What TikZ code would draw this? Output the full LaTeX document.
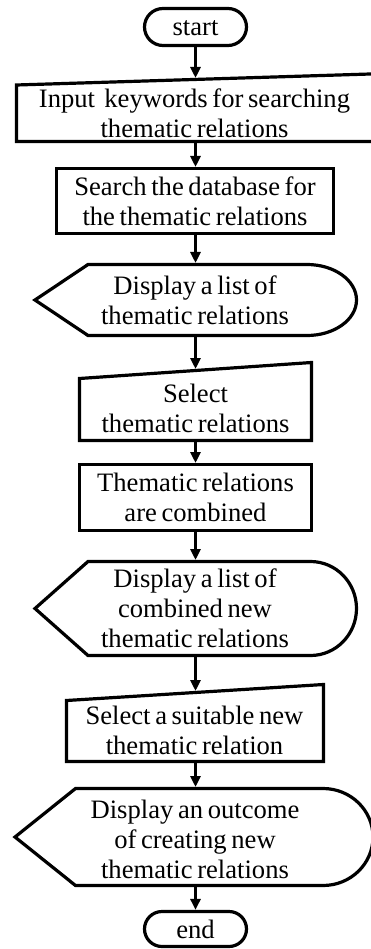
\documentclass[tikz,border=0pt]{standalone}
\usepackage{fontspec}
\setmainfont[WordSpace=0.7]{Liberation Serif}
\usetikzlibrary{arrows.meta}
\newcommand\lnstrut{\rule[-9pt]{0pt}{30pt}}
\newcommand\tmstrut{\rule[-2pt]{0pt}{22pt}}
\begin{document}
\begin{tikzpicture}[x=1pt,y=-1pt,
  shp/.style={line width=3.2pt, line join=miter},
  txt/.style={align=center, font=\fontsize{26.6}{30}\selectfont, inner sep=0pt},
  term/.style={draw, line width=3.2pt, minimum width=102pt, inner sep=0pt,
               font=\fontsize{26.6}{30}\selectfont},
  arr/.style={line width=3.2pt, -{Triangle[length=11pt,width=10pt]}}
]
\useasboundingbox (0,0) rectangle (370,949);
% start
\node[term, minimum height=37pt, rounded corners=18.5pt] (start) at (195.5,27) {\tmstrut start};
% input (manual input)
\draw[shp] (16.5,85) -- (380,73.7) -- (380,141.5) -- (16.5,141.5) -- cycle;
\node[txt] (input) at (194.5,117) {\lnstrut Input\ \ keywords for searching\\\lnstrut thematic relations};
\coordinate (inT) at (195.5,78);
\coordinate (inB) at (195.5,143);
% search
\draw[shp] (56.5,168.5) rectangle (333.5,233.5);
\node[txt] (search) at (195,205) {\lnstrut Search the database for\\\lnstrut the thematic relations};
\coordinate (srT) at (195.5,167);
\coordinate (srB) at (195.5,235);
% display 1
\draw[shp] (35,300) -- (88,264.5) -- (307,264.5)
  arc[start angle=-90,end angle=90,x radius=49.5,y radius=35.5] -- (88,335.5) -- cycle;
\node[txt] (disp1) at (195,303) {\lnstrut Display a list of\\\lnstrut thematic relations};
\coordinate (d1T) at (195.5,263);
\coordinate (d1B) at (195.5,337);
% select 1
\draw[shp] (79.5,378.5) -- (311.5,362.5) -- (311.5,440.5) -- (79.5,440.5) -- cycle;
\node[txt] (sel1) at (195.5,411.5) {\lnstrut Select\\\lnstrut thematic relations};
\coordinate (s1T) at (195.5,369);
\coordinate (s1B) at (195.5,442);
% thematic relations combined
\draw[shp] (79.5,464.5) rectangle (311.5,530.5);
\node[txt] (comb) at (195.5,500) {\lnstrut Thematic relations\\\lnstrut are combined};
\coordinate (thT) at (195.5,463);
\coordinate (thB) at (195.5,532);
% display 2
\draw[shp] (35,608.5) -- (88,561.5) -- (310.5,561.5)
  arc[start angle=-90,end angle=90,x radius=46,y radius=47] -- (88,655.5) -- cycle;
\node[txt] (disp2) at (195,611) {\lnstrut Display a list of\\\lnstrut combined new\\\lnstrut thematic relations};
\coordinate (d2T) at (195.5,560);
\coordinate (d2B) at (195.5,657);
% select 2
\draw[shp] (66.5,700.5) -- (323.5,684.5) -- (323.5,761.5) -- (66.5,761.5) -- cycle;
\node[txt] (sel2) at (194.5,733) {\lnstrut Select a suitable new\\\lnstrut thematic relation};
\coordinate (s2T) at (195.5,691);
\coordinate (s2B) at (195.5,763);
% display 3
\draw[shp] (15,837) -- (75.5,788.5) -- (323,788.5)
  arc[start angle=-90,end angle=90,x radius=50,y radius=48.5] -- (75.5,885.5) -- cycle;
\node[txt] (disp3) at (195,842) {\lnstrut Display an outcome\\\lnstrut of creating new\\\lnstrut thematic relations};
\coordinate (d3T) at (195.5,787);
\coordinate (d3B) at (195.5,887);
% end
\node[term, minimum height=35pt, rounded corners=17.5pt] (end) at (195.5,929) {\tmstrut end};
% connectors
\draw[arr] (start) -- (inT);
\draw[arr] (inB) -- (srT);
\draw[arr] (srB) -- (d1T);
\draw[arr] (d1B) -- (s1T);
\draw[arr] (s1B) -- (thT);
\draw[arr] (thB) -- (d2T);
\draw[arr] (d2B) -- (s2T);
\draw[arr] (s2B) -- (d3T);
\draw[arr] (d3B) -- (end);
\end{tikzpicture}
\end{document}
